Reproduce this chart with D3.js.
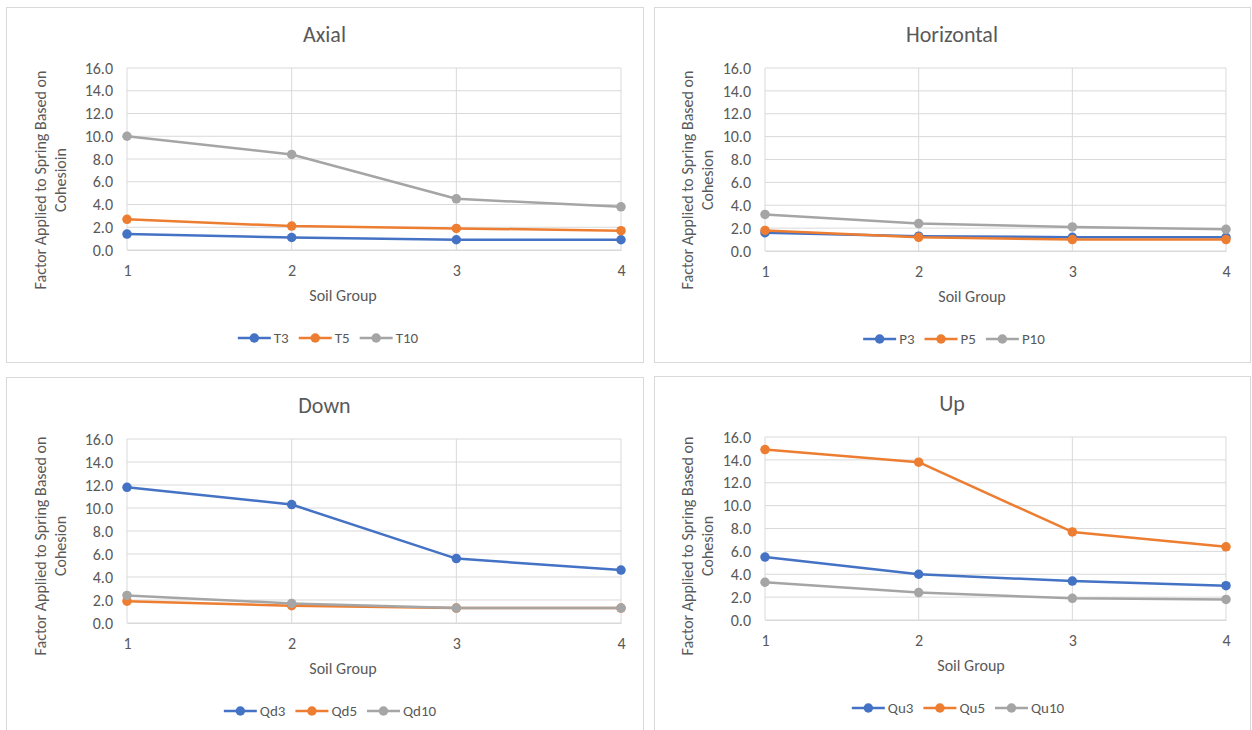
<!DOCTYPE html>
<html>
<head>
<meta charset="utf-8">
<script src="https://cdn.jsdelivr.net/npm/d3@7"></script>
<style>
  body { margin: 0; background: #fff; }
  svg { font-family: Carlito, "Open Sans", "Noto Sans", sans-serif; }
</style>
</head>
<body>
<svg id="chart" width="1252" height="730"></svg>
<script>
var soilGroups = [1, 2, 3, 4];
var yTicks = [0, 2, 4, 6, 8, 10, 12, 14, 16];

var axialNames = ["T3", "T5", "T10"];
var axialT3 = [1.4, 1.1, 0.9, 0.9];
var axialT5 = [2.7, 2.1, 1.9, 1.7];
var axialT10 = [10.0, 8.4, 4.5, 3.8];

var horizNames = ["P3", "P5", "P10"];
var horizP3 = [1.6, 1.3, 1.2, 1.2];
var horizP5 = [1.8, 1.2, 1.0, 1.0];
var horizP10 = [3.2, 2.4, 2.1, 1.9];

var downNames = ["Qd3", "Qd5", "Qd10"];
var downQd3 = [11.8, 10.3, 5.6, 4.6];
var downQd5 = [1.9, 1.5, 1.3, 1.3];
var downQd10 = [2.4, 1.7, 1.3, 1.3];

var upNames = ["Qu3", "Qu5", "Qu10"];
var upQu3 = [5.5, 4.0, 3.4, 3.0];
var upQu5 = [14.9, 13.8, 7.7, 6.4];
var upQu10 = [3.3, 2.4, 1.9, 1.8];

var colors = ["#4472C4", "#ED7D31", "#A5A5A5"];
var textColor = "#595959";

var svg = d3.select("#chart");

function drawPanel(p) {
    var g = svg.append("g");

    g.append("rect")
        .attr("x", p.box[0] + 0.5).attr("y", p.box[1] + 0.5)
        .attr("width", p.box[2]).attr("height", p.box[3])
        .attr("fill", "#fff").attr("stroke", "#d9d9d9");

    var x = d3.scaleLinear().domain([1, 4]).range([p.x0, p.x1]);
    var y = d3.scaleLinear().domain([0, 16]).range([p.y0, p.y1]);

    // gridlines
    g.append("g").selectAll("line")
        .data(yTicks)
        .enter().append("line")
        .attr("x1", p.x0).attr("x2", p.x1)
        .attr("y1", function(d) { return y(d); })
        .attr("y2", function(d) { return y(d); })
        .attr("stroke", "#d9d9d9").attr("stroke-width", 1);
    g.append("g").selectAll("line")
        .data(soilGroups)
        .enter().append("line")
        .attr("x1", function(d) { return x(d); })
        .attr("x2", function(d) { return x(d); })
        .attr("y1", p.y0).attr("y2", p.y1)
        .attr("stroke", "#d9d9d9").attr("stroke-width", 1);

    var yAxis = g.append("g")
        .attr("transform", "translate(" + p.x0 + ",0)")
        .call(d3.axisLeft(y).tickValues(yTicks).tickSize(0).tickPadding(14).tickFormat(d3.format(".1f")));
    yAxis.select(".domain").remove();

    var xAxis = g.append("g")
        .attr("transform", "translate(0," + p.y0 + ")")
        .call(d3.axisBottom(x).tickValues(soilGroups).tickSize(0).tickPadding(15).tickFormat(d3.format("d")));
    xAxis.select(".domain").attr("stroke", "#d9d9d9");

    yAxis.attr("font-family", null).attr("font-size", null);
    xAxis.attr("font-family", null).attr("font-size", null);
    g.selectAll(".tick text")
        .attr("fill", textColor)
        .style("font-size", "16px");

    // title
    g.append("text")
        .attr("x", p.box[0] + p.box[2] / 2).attr("y", p.y1 - 26)
        .attr("text-anchor", "middle")
        .attr("fill", textColor)
        .style("font-size", "22px")
        .style("font-weight", "400")
        .text(p.title);

    // axis titles
    g.append("text")
        .attr("x", p.xTitleX).attr("y", p.y0 + 51)
        .attr("text-anchor", "middle")
        .attr("fill", textColor)
        .style("font-size", "16px")
        .text("Soil Group");

    var yt = g.append("text")
        .attr("transform", "translate(" + p.yTitleX + "," + p.yTitleY + ") rotate(-90)")
        .attr("text-anchor", "middle")
        .attr("fill", textColor)
        .style("font-size", "16px");
    yt.append("tspan").attr("x", 0).attr("dy", -4).text("Factor Applied to Spring Based on");
    yt.append("tspan").attr("x", 0).attr("dy", 20).text(p.yLine2);

    var line = d3.line()
        .x(function(d, i) { return x(soilGroups[i]); })
        .y(function(d) { return y(d); });

    p.series.forEach(function(s, k) {
        g.append("path")
            .datum(s)
            .attr("fill", "none")
            .attr("stroke", colors[k])
            .attr("stroke-width", 2.5)
            .attr("stroke-linejoin", "round")
            .attr("d", line);
        g.append("g").selectAll("circle")
            .data(s)
            .enter().append("circle")
            .attr("cx", function(d, i) { return x(soilGroups[i]); })
            .attr("cy", function(d) { return y(d); })
            .attr("r", 4.75)
            .attr("fill", colors[k]);
    });

    // legend
    var lg = g.append("g").style("font-size", "15px");
    var items = [];
    var cx = 0;
    p.names.forEach(function(n, k) {
        var tmp = lg.append("text").text(n);
        var w = tmp.node().getComputedTextLength();
        tmp.remove();
        items.push({ name: n, k: k, x: cx });
        cx += 33 + 3 + w + 10;
    });
    var start = p.legendX - (cx - 10) / 2;
    items.forEach(function(it) {
        var ix = start + it.x;
        lg.append("line")
            .attr("x1", ix).attr("x2", ix + 33)
            .attr("y1", p.legendY).attr("y2", p.legendY)
            .attr("stroke", colors[it.k]).attr("stroke-width", 2.5);
        lg.append("circle")
            .attr("cx", ix + 16.5).attr("cy", p.legendY).attr("r", 4.75)
            .attr("fill", colors[it.k]);
        lg.append("text")
            .attr("x", ix + 36).attr("y", p.legendY)
            .attr("dy", "0.35em")
            .attr("fill", textColor)
            .text(it.name);
    });
}

drawPanel({
    box: [6, 7, 637, 355], title: "Axial", yLine2: "Cohesioin",
    x0: 127, x1: 621, y0: 250, y1: 68,
    xTitleX: 343, yTitleX: 50, yTitleY: 180,
    names: axialNames, series: [axialT3, axialT5, axialT10],
    legendX: 328, legendY: 338
});
drawPanel({
    box: [654, 7, 596, 355], title: "Horizontal", yLine2: "Cohesion",
    x0: 765, x1: 1226, y0: 251, y1: 68,
    xTitleX: 972, yTitleX: 697, yTitleY: 180,
    names: horizNames, series: [horizP3, horizP5, horizP10],
    legendX: 954, legendY: 339
});
drawPanel({
    box: [6, 377, 637, 360], title: "Down", yLine2: "Cohesion",
    x0: 127, x1: 621, y0: 623, y1: 439,
    xTitleX: 343, yTitleX: 50, yTitleY: 546,
    names: downNames, series: [downQd3, downQd5, downQd10],
    legendX: 330, legendY: 711
});
drawPanel({
    box: [654, 376, 596, 360], title: "Up", yLine2: "Cohesion",
    x0: 765, x1: 1226, y0: 620, y1: 437,
    xTitleX: 971, yTitleX: 697, yTitleY: 546,
    names: upNames, series: [upQu3, upQu5, upQu10],
    legendX: 958, legendY: 708
});
</script>
</body>
</html>
